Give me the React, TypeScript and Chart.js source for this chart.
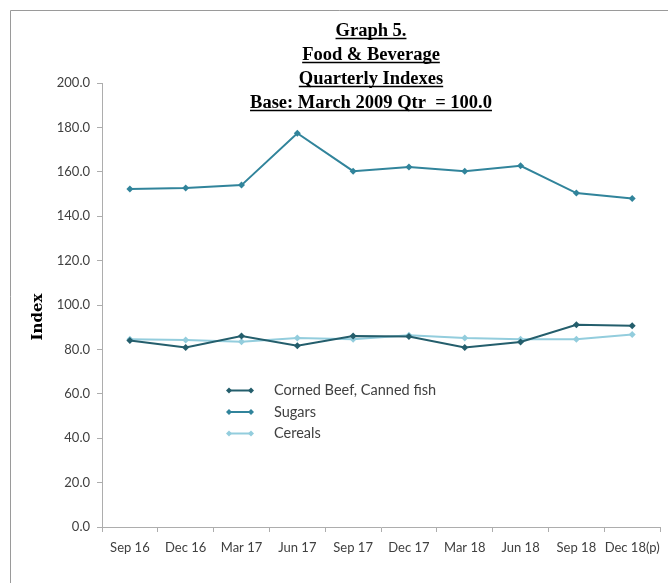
import React, { useEffect, useRef } from "react";
import { Chart, registerables } from "chart.js";

Chart.register(...registerables);

const categories = ["Sep 16", "Dec 16", "Mar 17", "Jun 17", "Sep 17", "Dec 17", "Mar 18", "Jun 18", "Sep 18", "Dec 18(p)"];
const cornedBeef = [84.0, 80.9, 86.0, 81.7, 86.0, 85.8, 80.9, 83.3, 91.1, 90.6];
const sugars = [152.2, 152.7, 154.0, 177.4, 160.3, 162.2, 160.3, 162.7, 150.4, 148.0];
const cereals = [84.6, 84.2, 83.4, 85.1, 84.6, 86.4, 85.1, 84.6, 84.6, 86.7];
const seriesNames = ["Corned Beef, Canned fish", "Sugars", "Cereals"];
const seriesColors = ["#245E6C", "#31849B", "#93CDDD"];
const titleLines = ["Graph 5.", "Food & Beverage", "Quarterly Indexes", "Base: March 2009 Qtr  = 100.0"];
const yAxisTitle = "Index";

const TEXT = "#404040";
const AXIS = "#ADADAD";
const FONT = "Lato, 'Open Sans', sans-serif";

function diamond(ctx: CanvasRenderingContext2D, x: number, y: number, r: number, color: string) {
  ctx.beginPath();
  ctx.moveTo(x, y - r);
  ctx.lineTo(x + r, y);
  ctx.lineTo(x, y + r);
  ctx.lineTo(x - r, y);
  ctx.closePath();
  ctx.fillStyle = color;
  ctx.fill();
}

const decorPlugin = {
  id: "decor",
  afterDraw(chart: any) {
    const ctx = chart.ctx as CanvasRenderingContext2D;
    ctx.save();
    // frame
    ctx.strokeStyle = "#9A9A9A";
    ctx.lineWidth = 1;
    ctx.beginPath();
    ctx.moveTo(10.5, 583);
    ctx.lineTo(10.5, 10.5);
    ctx.lineTo(668, 10.5);
    ctx.stroke();

    // title
    ctx.fillStyle = "#000";
    ctx.strokeStyle = "#000";
    ctx.font = "bold 18.5px 'Liberation Serif', serif";
    ctx.textAlign = "center";
    ctx.textBaseline = "alphabetic";
    const cx = 371;
    titleLines.forEach((line, i) => {
      const y = 36 + i * 24;
      ctx.fillText(line, cx, y);
      const w = ctx.measureText(line).width;
      ctx.lineWidth = 1.5;
      ctx.beginPath();
      ctx.moveTo(cx - w / 2, y + 2.5);
      ctx.lineTo(cx + w / 2, y + 2.5);
      ctx.stroke();
    });

    // y axis title
    ctx.save();
    ctx.translate(38, 317);
    ctx.rotate(-Math.PI / 2);
    ctx.font = "bold 15px 'DejaVu Serif', serif";
    ctx.textAlign = "center";
    ctx.textBaseline = "middle";
    ctx.fillStyle = "#000";
    ctx.fillText(yAxisTitle, 0, 0);
    ctx.restore();

    // legend
    ctx.font = "14.5px " + FONT;
    ctx.textAlign = "left";
    ctx.textBaseline = "middle";
    chart.data.datasets.forEach((ds: any, i: number) => {
      const y = 390.5 + i * 21.5;
      ctx.strokeStyle = ds.borderColor;
      ctx.lineWidth = 2;
      ctx.beginPath();
      ctx.moveTo(229, y);
      ctx.lineTo(251, y);
      ctx.stroke();
      diamond(ctx, 229, y, 3, ds.borderColor);
      diamond(ctx, 251, y, 3, ds.borderColor);
      ctx.fillStyle = TEXT;
      ctx.fillText(ds.label, 274, y);
    });
    ctx.restore();
  },
};

export default function App() {
  const ref = useRef<HTMLCanvasElement | null>(null);
  useEffect(() => {
    if (!ref.current) return;
    const series = [cornedBeef, sugars, cereals];
    const chart = new Chart(ref.current, {
      type: "line",
      data: {
        labels: categories,
        datasets: series.map((d, i) => ({
          label: seriesNames[i],
          data: d,
          borderColor: seriesColors[i],
          backgroundColor: seriesColors[i],
          borderWidth: 2,
          pointStyle: "rectRot",
          pointRadius: 3.5,
          pointBorderWidth: 0,
          tension: 0,
        })),
      },
      options: {
        animation: false,
        responsive: false,
        layout: { padding: { top: 83, right: 6, left: 0, bottom: 0 } },
        plugins: { legend: { display: false }, title: { display: false }, tooltip: { enabled: false } },
        scales: {
          x: {
            offset: true,
            grid: { display: true, offset: true, drawOnChartArea: false, drawTicks: true, tickLength: 5, color: AXIS },
            border: { color: AXIS },
            ticks: { color: TEXT, font: { family: FONT, size: 13 }, padding: 8, maxRotation: 0, autoSkip: false },
            afterFit: (s: any) => { s.height = 56; },
          },
          y: {
            min: 0,
            max: 200,
            grid: { display: true, drawOnChartArea: false, drawTicks: true, tickLength: 5, color: AXIS },
            border: { color: AXIS },
            ticks: {
              stepSize: 20,
              color: TEXT,
              font: { family: FONT, size: 13 },
              padding: 7,
              callback: (v: any) => Number(v).toFixed(1),
            },
            afterFit: (s: any) => { s.width = 102; },
          },
        },
      },
      plugins: [decorPlugin],
    });
    return () => chart.destroy();
  }, []);
  return (
    <div style={{ position: "absolute", left: 0, top: 0, width: 668, height: 583, background: "#fff" }}>
      <canvas ref={ref} width={668} height={583} style={{ display: "block" }} />
    </div>
  );
}
